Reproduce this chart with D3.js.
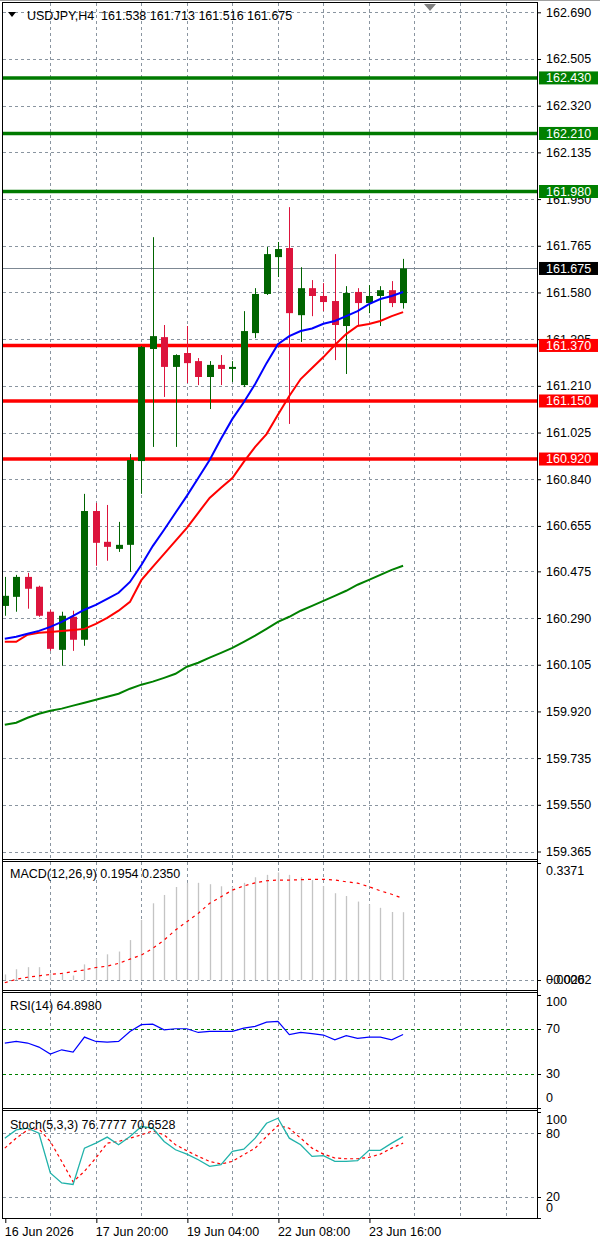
<!DOCTYPE html>
<html>
<head>
<meta charset="utf-8">
<script src="https://cdn.jsdelivr.net/npm/d3@7"></script>
<style>
  html, body { margin: 0; padding: 0; background: #fff; }
  svg { display: block; font-family: "Liberation Sans", Arial, sans-serif; font-size: 12.5px; }
</style>
</head>
<body>
<div id="chart"></div>
<script>
// ---- data ----
const symbol = 'USDJPY,H4';
const lastOHLC = [161.538, 161.713, 161.516, 161.675];

const open  = [160.338, 160.374, 160.453, 160.414, 160.315, 160.164, 160.295, 160.204, 160.714, 160.592, 160.564, 160.580,
               160.912, 161.356, 161.403, 161.285, 161.340, 161.308, 161.245, 161.293, 161.277, 161.213, 161.419, 161.574,
               161.720, 161.756, 161.490, 161.597, 161.566, 161.546, 161.447, 161.582, 161.538, 161.566, 161.589, 161.538];
const high  = [160.453, 160.461, 160.469, 160.418, 160.323, 160.315, 160.319, 160.782, 160.746, 160.738, 160.671, 160.940,
               161.368, 161.799, 161.451, 161.335, 161.447, 161.320, 161.308, 161.332, 161.308, 161.506, 161.597, 161.760,
               161.780, 161.918, 161.680, 161.629, 161.617, 161.732, 161.605, 161.597, 161.609, 161.605, 161.625, 161.713];
const low   = [160.299, 160.315, 160.327, 160.295, 160.160, 160.101, 160.160, 160.180, 160.497, 160.517, 160.552, 160.473,
               160.782, 160.968, 161.166, 160.968, 161.221, 161.213, 161.118, 161.213, 161.225, 161.205, 161.399, 161.570,
               161.641, 161.059, 161.384, 161.486, 161.506, 161.312, 161.257, 161.451, 161.498, 161.447, 161.522, 161.516];
const close = [160.378, 160.453, 160.406, 160.299, 160.168, 160.299, 160.204, 160.714, 160.588, 160.572, 160.580, 160.916,
               161.364, 161.407, 161.285, 161.332, 161.300, 161.245, 161.293, 161.277, 161.285, 161.427, 161.574, 161.732,
               161.752, 161.498, 161.597, 161.566, 161.542, 161.451, 161.578, 161.538, 161.566, 161.589, 161.538, 161.675];

const maFast = [160.208, 160.216, 160.228, 160.239, 160.255, 160.275, 160.299, 160.323, 160.342, 160.366, 160.390, 160.433,
                160.500, 160.575, 160.640, 160.707, 160.774, 160.845, 160.916, 161.000, 161.079, 161.145, 161.217, 161.300,
                161.375, 161.407, 161.427, 161.437, 161.456, 161.467, 161.486, 161.506, 161.534, 161.554, 161.566, 161.582];
const maMid  = [160.196, 160.196, 160.224, 160.232, 160.235, 160.239, 160.243, 160.247, 160.267, 160.291, 160.319, 160.354,
                160.440, 160.493, 160.544, 160.596, 160.647, 160.707, 160.766, 160.806, 160.845, 160.909, 160.968, 161.019,
                161.095, 161.170, 161.237, 161.281, 161.324, 161.372, 161.415, 161.447, 161.455, 161.467, 161.486, 161.502];
const maSlow = [159.867, 159.875, 159.895, 159.911, 159.923, 159.931, 159.943, 159.954, 159.966, 159.978, 159.990, 160.010,
                160.026, 160.038, 160.053, 160.069, 160.097, 160.113, 160.133, 160.152, 160.172, 160.196, 160.220, 160.247,
                160.275, 160.295, 160.319, 160.338, 160.358, 160.378, 160.398, 160.422, 160.441, 160.461, 160.481, 160.497];

const supportLevels    = [161.370, 161.150, 160.920];
const resistanceLevels = [162.430, 162.210, 161.980];

const priceTicks = [162.690, 162.505, 162.320, 162.135, 161.950, 161.765, 161.580, 161.395, 161.210, 161.025,
                    160.840, 160.655, 160.475, 160.290, 160.105, 159.920, 159.735, 159.550, 159.365];

const macdMain   = [0.016, 0.031, 0.037, 0.037, 0.019, 0.019, 0.013, 0.045, 0.062, 0.074, 0.082, 0.115,
                    0.173, 0.221, 0.245, 0.268, 0.280, 0.280, 0.276, 0.270, 0.268, 0.280, 0.296, 0.303,
                    0.310, 0.303, 0.296, 0.288, 0.271, 0.250, 0.242, 0.226, 0.218, 0.208, 0.196, 0.1954];
const macdSignal = [-0.008, 0.002, 0.008, 0.012, 0.016, 0.019, 0.024, 0.029, 0.036, 0.040, 0.048, 0.060,
                    0.072, 0.091, 0.115, 0.144, 0.168, 0.192, 0.221, 0.240, 0.259, 0.271, 0.280, 0.286,
                    0.288, 0.288, 0.289, 0.290, 0.290, 0.288, 0.283, 0.279, 0.269, 0.257, 0.247, 0.2350];
const macdMax = 0.3371, macdMin = -0.0262;

const rsi = [57.3, 58.7, 57.3, 53.7, 47.5, 51.3, 49.3, 62.6, 58.7, 58.1, 58.7, 67.6,
             73.6, 74.1, 69.1, 70.0, 70.0, 66.7, 67.6, 67.6, 67.6, 70.6, 72.1, 75.9,
             76.5, 64.7, 66.7, 65.6, 64.4, 60.2, 63.8, 61.4, 62.6, 62.6, 60.2, 64.898];
const rsiLevels = [70, 30];

const stochMain   = [75.3, 83.1, 84.7, 80.0, 42.5, 33.1, 31.6, 65.9, 70.6, 76.3, 69.1, 76.9,
                     86.3, 84.7, 72.2, 64.4, 60.3, 55.0, 48.8, 50.3, 62.8, 65.0, 75.3, 89.4,
                     94.1, 75.3, 69.1, 58.1, 58.8, 53.4, 53.4, 54.1, 63.8, 63.8, 70.6, 76.7777];
const stochSignal = [65.9, 75.3, 83.1, 84.1, 72.2, 53.4, 34.1, 44.1, 56.6, 70.6, 72.2, 75.3,
                     78.4, 82.2, 78.4, 69.1, 63.4, 58.1, 53.4, 50.9, 53.4, 59.7, 65.9, 76.9,
                     87.2, 84.7, 75.3, 65.9, 60.3, 56.6, 55.9, 55.9, 57.2, 60.3, 65.9, 70.6528];
const stochLevels = [80, 20];

const timeTickIndex = [0, 8, 16, 24, 32];
const timeTickLabel = ['16 Jun 2026', '17 Jun 20:00', '19 Jun 04:00', '22 Jun 08:00', '23 Jun 16:00'];
const gridIndex = [4, 8, 12, 16, 20, 24, 28, 32, 36, 40, 44];

// ---- layout ----
const W = 600, H = 1238;
const left = 3, right = 537;
const panels = {
  main:  { top: 3,    bottom: 859 },
  macd:  { top: 862,  bottom: 990 },
  rsi:   { top: 993,  bottom: 1108 },
  stoch: { top: 1111, bottom: 1218 }
};
const GREEN = '#006400', RED = '#dc143c', GRID = '#8a95a0';
const FONT = '"Liberation Sans", Arial, sans-serif';

const svg = d3.select('#chart').append('svg')
  .attr('width', W).attr('height', H);

// top strip of the window
svg.append('line').attr('x1', 0).attr('x2', W).attr('y1', 0.5).attr('y2', 0.5).attr('stroke', '#a0a0a0');

// scales
const x = d3.scaleLinear().domain([0, 44]).range([4.8, 4.8 + 11.38 * 44]);
const y = d3.scaleLinear().domain([159.365, 162.690]).range([851.5, 12.3]);
const yMacd = d3.scaleLinear().domain([0, macdMax]).range([980, panels.macd.top + 1]);
const yRsi = d3.scaleLinear().domain([0, 100]).range([1107.5, 995]);
const yStoch = d3.scaleLinear().domain([0, 100]).range([1218, 1112]);

const idx = d3.range(close.length);

// clip paths per panel
const defs = svg.append('defs');
Object.entries(panels).forEach(([k, p]) => {
  defs.append('clipPath').attr('id', 'clip-' + k)
    .append('rect').attr('x', left).attr('y', p.top).attr('width', right - left).attr('height', p.bottom - p.top);
});
const layer = k => svg.append('g').attr('clip-path', `url(#clip-${k})`);

// vertical grid in every panel
Object.entries(panels).forEach(([k, p]) => {
  layer(k).selectAll('line').data(gridIndex).join('line')
    .attr('x1', d => Math.round(x(d)) + 0.5).attr('x2', d => Math.round(x(d)) + 0.5)
    .attr('y1', p.top).attr('y2', p.bottom)
    .attr('stroke', GRID).attr('stroke-dasharray', '3,3');
});

// ---- main price panel ----
const main = layer('main');
main.selectAll('.hgrid').data(priceTicks).join('line')
  .attr('class', 'hgrid')
  .attr('x1', left).attr('x2', right)
  .attr('y1', d => Math.round(y(d)) + 0.5).attr('y2', d => Math.round(y(d)) + 0.5)
  .attr('stroke', GRID).attr('stroke-dasharray', '3,3');

// current price line
main.append('line')
  .attr('x1', left).attr('x2', right)
  .attr('y1', Math.round(y(lastOHLC[3])) + 0.5).attr('y2', Math.round(y(lastOHLC[3])) + 0.5)
  .attr('stroke', '#7d8893');

// horizontal levels
main.selectAll('.res').data(resistanceLevels).join('line')
  .attr('x1', left).attr('x2', right).attr('y1', d => y(d)).attr('y2', d => y(d))
  .attr('stroke', '#007a00').attr('stroke-width', 3.5);
main.selectAll('.sup').data(supportLevels).join('line')
  .attr('x1', left).attr('x2', right).attr('y1', d => y(d)).attr('y2', d => y(d))
  .attr('stroke', '#ff0000').attr('stroke-width', 3.5);

// candles
const candle = main.selectAll('.candle').data(idx).join('g').attr('class', 'candle');
candle.append('line')
  .attr('x1', i => Math.round(x(i)) + 0.5).attr('x2', i => Math.round(x(i)) + 0.5)
  .attr('y1', i => y(high[i])).attr('y2', i => y(low[i]))
  .attr('stroke', i => close[i] >= open[i] ? GREEN : RED);
candle.append('rect')
  .attr('x', i => Math.round(x(i)) - 3)
  .attr('width', 7)
  .attr('y', i => y(Math.max(open[i], close[i])))
  .attr('height', i => Math.max(1.5, Math.abs(y(open[i]) - y(close[i]))))
  .attr('fill', i => close[i] >= open[i] ? GREEN : RED);

// moving averages
const maLine = arr => d3.line().x(i => x(i)).y(i => y(arr[i]))(idx);
[[maSlow, '#008000'], [maMid, '#ff0000'], [maFast, '#0000ff']].forEach(([arr, c]) => {
  main.append('path').attr('d', maLine(arr)).attr('fill', 'none')
    .attr('stroke', c).attr('stroke-width', 2);
});

// header
svg.append('path').attr('d', 'M8,12 L16,12 L12,17 Z').attr('fill', '#000');
svg.append('text').attr('x', 27).attr('y', 16).attr('dy', '0.35em')
  .attr('xml:space', 'preserve')
  .text(symbol + '  ' + lastOHLC.map(d3.format('.3f')).join(' '));
// chart shift marker
svg.append('path').attr('d', 'M424,4 L436,4 L430,11 Z').attr('fill', '#808080');

// price axis
const yAxis = svg.append('g').attr('transform', `translate(${right},0)`)
  .call(d3.axisRight(y).tickValues(priceTicks).tickSize(4).tickPadding(5).tickSizeOuter(0)
    .tickFormat(d3.format('.3f')));
yAxis.select('.domain').remove();
yAxis.selectAll('text').attr('font-size', 12.5).attr('font-family', FONT).attr('fill', '#000');

// level tags on the axis
const tag = (v, bg) => {
  const g = svg.append('g').attr('transform', `translate(${right + 2},${y(v)})`);
  g.append('rect').attr('x', 0).attr('y', -6.5).attr('width', 59).attr('height', 13).attr('fill', bg);
  g.append('text').attr('x', 7).attr('dy', '0.35em').attr('fill', '#fff').text(d3.format('.3f')(v));
};
resistanceLevels.forEach(v => tag(v, '#008000'));
supportLevels.forEach(v => tag(v, '#ff0000'));
tag(lastOHLC[3], '#000');

// ---- MACD panel ----
const macd = layer('macd');
macd.append('line').attr('x1', left).attr('x2', right)
  .attr('y1', Math.round(yMacd(0)) + 0.5).attr('y2', Math.round(yMacd(0)) + 0.5)
  .attr('stroke', GRID).attr('stroke-dasharray', '3,3');
macd.selectAll('.bar').data(idx).join('line')
  .attr('x1', i => Math.round(x(i)) + 0.5).attr('x2', i => Math.round(x(i)) + 0.5)
  .attr('y1', yMacd(0)).attr('y2', i => yMacd(macdMain[i]))
  .attr('stroke', '#c4c4c4').attr('stroke-width', 1.3);
macd.append('path').attr('d', d3.line().x(i => x(i)).y(i => yMacd(macdSignal[i]))(idx))
  .attr('fill', 'none').attr('stroke', '#ff0000').attr('stroke-width', 1.2).attr('stroke-dasharray', '3,4');

// ---- RSI panel ----
const rsiG = layer('rsi');
rsiG.selectAll('.lvl').data(rsiLevels).join('line')
  .attr('x1', left).attr('x2', right)
  .attr('y1', d => Math.round(yRsi(d)) + 0.5).attr('y2', d => Math.round(yRsi(d)) + 0.5)
  .attr('stroke', '#008000').attr('stroke-dasharray', '3,3');
rsiG.append('path').attr('d', d3.line().x(i => x(i)).y(i => yRsi(rsi[i]))(idx))
  .attr('fill', 'none').attr('stroke', '#0000ff').attr('stroke-width', 1.2);

// ---- Stochastic panel ----
const stG = layer('stoch');
stG.selectAll('.lvl').data(stochLevels).join('line')
  .attr('x1', left).attr('x2', right)
  .attr('y1', d => Math.round(yStoch(d)) + 0.5).attr('y2', d => Math.round(yStoch(d)) + 0.5)
  .attr('stroke', GRID).attr('stroke-dasharray', '3,3');
stG.append('path').attr('d', d3.line().x(i => x(i)).y(i => yStoch(stochSignal[i]))(idx))
  .attr('fill', 'none').attr('stroke', '#ff0000').attr('stroke-width', 1.2).attr('stroke-dasharray', '3,3');
stG.append('path').attr('d', d3.line().x(i => x(i)).y(i => yStoch(stochMain[i]))(idx))
  .attr('fill', 'none').attr('stroke', '#20b2aa').attr('stroke-width', 1.3);

// panel frames
Object.values(panels).forEach(p => {
  svg.append('rect').attr('x', left - 0.5).attr('y', p.top - 0.5)
    .attr('width', right - left + 1).attr('height', p.bottom - p.top + 1)
    .attr('fill', 'none').attr('stroke', '#000');
});
svg.append('line').attr('x1', 2.5).attr('x2', 2.5).attr('y1', panels.main.top).attr('y2', panels.stoch.bottom).attr('stroke', '#000');

// indicator labels
const label = (txt, yy) => svg.append('text').attr('x', 10).attr('y', yy).attr('dy', '0.35em').text(txt);
label('MACD(12,26,9) ' + d3.format('.4f')(macdMain[macdMain.length - 1]) + ' ' + d3.format('.4f')(macdSignal[macdSignal.length - 1]), 874);
label('RSI(14) ' + d3.format('.4f')(rsi[rsi.length - 1]), 1006);
label('Stoch(5,3,3) ' + d3.format('.4f')(stochMain[stochMain.length - 1]) + ' ' + d3.format('.4f')(stochSignal[stochSignal.length - 1]), 1125);

// side scales of the indicator panels (labels kept inside the panel)
const sideScale = (scale, vals, fmt, p) => {
  vals.forEach(v => {
    const yy = scale(v);
    svg.append('line').attr('x1', right).attr('x2', right + 4)
      .attr('y1', Math.round(yy) + 0.5).attr('y2', Math.round(yy) + 0.5).attr('stroke', '#000');
    svg.append('text').attr('x', right + 9)
      .attr('y', Math.min(Math.max(yy, p.top + 9), p.bottom - 10))
      .attr('dy', '0.35em').text(fmt(v));
  });
};
sideScale(yMacd, [macdMax, 0], d3.format('.4f'), panels.macd);
svg.append('text').attr('x', right + 9).attr('y', panels.macd.bottom - 10).attr('dy', '0.35em').text(d3.format('.4f')(macdMin));
sideScale(yRsi, [100, 70, 30, 0], d3.format('d'), panels.rsi);
sideScale(yStoch, [100, 80, 20, 0], d3.format('d'), panels.stoch);

// right axis line through all panels
svg.append('line').attr('x1', right + 0.5).attr('x2', right + 0.5)
  .attr('y1', panels.main.top - 1).attr('y2', panels.stoch.bottom).attr('stroke', '#000');

// time axis
const xAxis = svg.append('g').attr('transform', `translate(0.5,${panels.stoch.bottom})`)
  .call(d3.axisBottom(x).tickValues(timeTickIndex).tickSize(5).tickSizeOuter(0)
    .tickFormat((d, k) => timeTickLabel[k]));
xAxis.select('.domain').remove();
xAxis.selectAll('text').attr('text-anchor', 'start').attr('dx', -1).attr('y', 9)
  .attr('font-size', 12.5).attr('font-family', FONT).attr('fill', '#000');
</script>
</body>
</html>
